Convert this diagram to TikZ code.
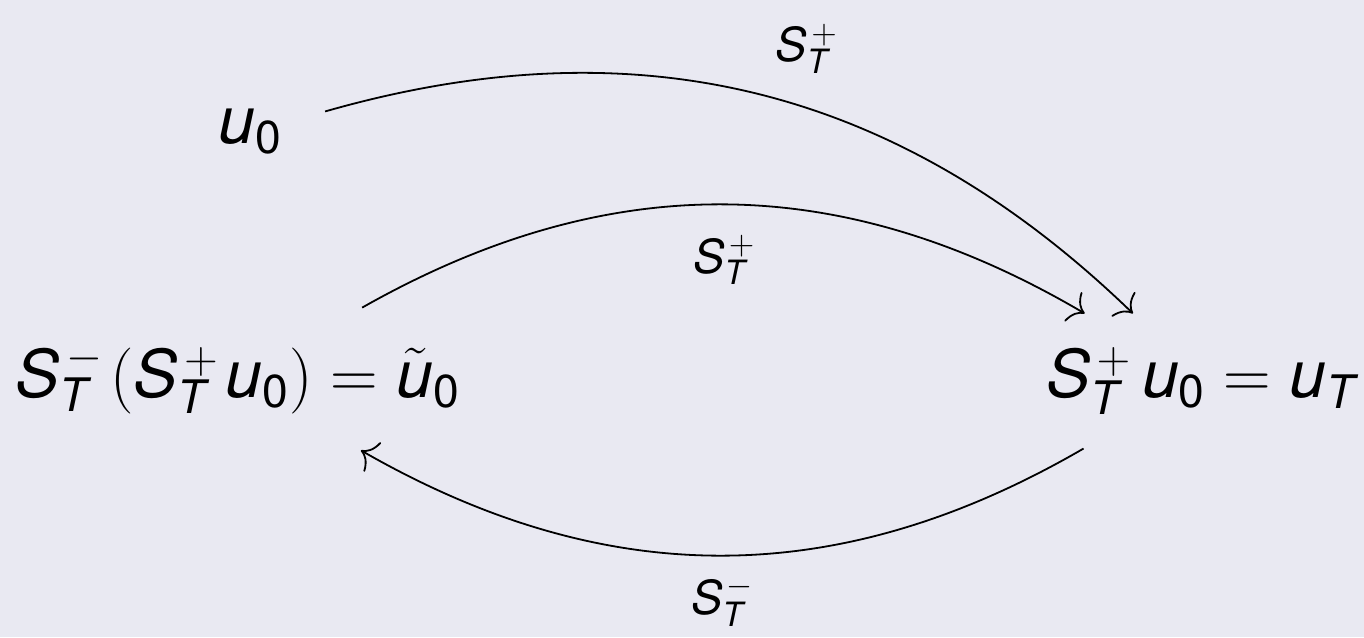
\RequirePackage{fix-cm}
\documentclass[tikz,border=0pt]{standalone}
\usepackage{fontspec}
\usetikzlibrary{arrows.meta}
\newfontfamily\herosfont{TeX Gyre Heros}[NFSSFamily=heros]
\DeclareMathAlphabet{\mathsfit}{TU}{heros}{m}{it}
\DeclareMathAlphabet{\mathsfup}{TU}{heros}{m}{n}
\newcommand{\vS}{\mathsfit{S}}
\newcommand{\vT}{\mathsfit{T}}
\newcommand{\vu}{\mathsfit{u}}
\newcommand{\vz}{\mathsfup{0}}
\newcommand{\SopT}[1]{\vS_{\vT}^{\mkern2.5mu #1}}
\definecolor{bgc}{RGB}{233,233,242}
\tikzset{
  obj/.style={font=\fontsize{33}{40}\selectfont, inner sep=17pt},
  lbl/.style={font=\fontsize{33.5}{40}\selectfont},
  arr/.style={line width=0.9pt, -{Computer Modern Rightarrow[length=7pt,width=17pt]}},
}
\begin{document}
\begin{tikzpicture}[x=0.5pt,y=-0.5pt]
\fill[bgc] (0,0) rectangle (1364,637);
\useasboundingbox (0,0) rectangle (1364,637);
\node[obj, inner xsep=21.5pt] (U) at (250,132) {$\vu_{\vz}$};
\node[obj, inner ysep=18pt] (L) at (238,379) {$\SopT{-}\mkern2mu(\SopT{+}\mkern2mu\vu_{\vz}) = \tilde{\vu}_{\vz}$};
\node[obj] (R) at (1201,381) {$\SopT{+}\,\vu_{\vz} = \vu_{\vT}$};
\draw[arr] (U) to[bend left=30] node[lbl, midway, anchor=south west, inner sep=8pt, yshift=2pt] {$\scriptstyle \SopT{+}$} (R);
\draw[arr] (L) to[bend left=30] node[lbl, midway, anchor=north, inner sep=15pt] {$\scriptstyle \SopT{+}$} (R);
\draw[arr] (R) to[bend left=30] node[lbl, midway, anchor=north, inner sep=10pt] {$\scriptstyle \SopT{-}$} (L);
\end{tikzpicture}
\end{document}
